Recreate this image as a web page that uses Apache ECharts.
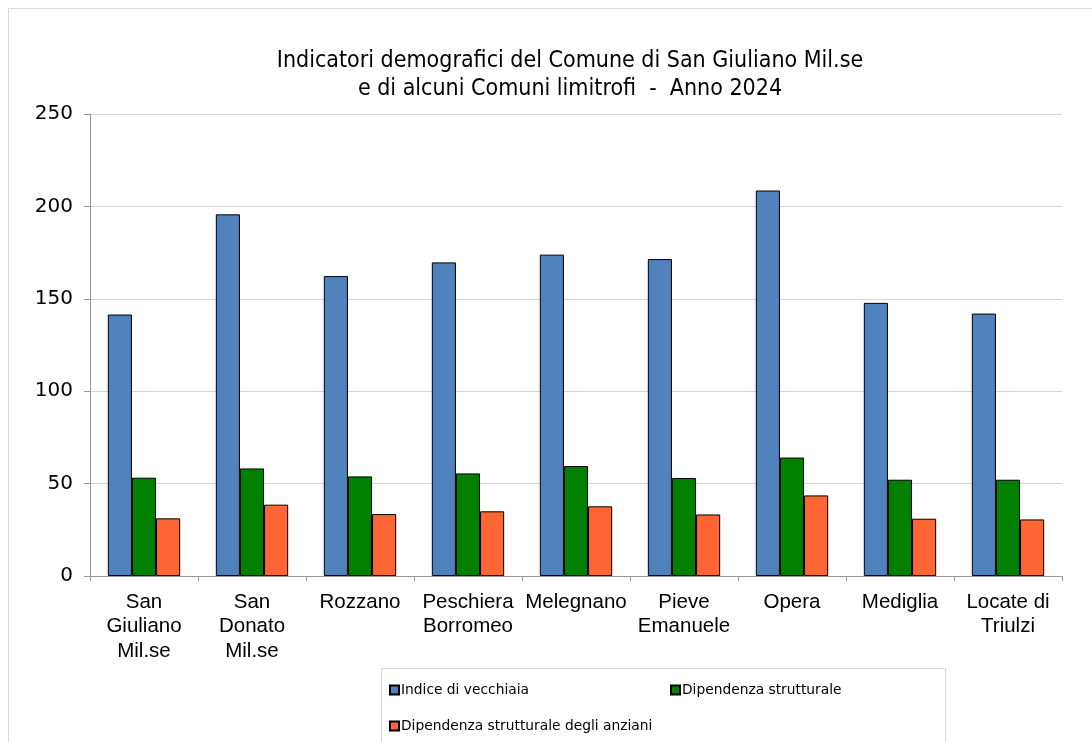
<!DOCTYPE html>
<html><head><meta charset="utf-8">
<script src="https://cdn.jsdelivr.net/npm/echarts@6/dist/echarts.min.js"></script>
<style>html,body{margin:0;padding:0;background:#fff}#c{width:1092px;height:742px}</style>
</head><body><div id="c"></div>
<script>
const categories = ["San\nGiuliano\nMil.se","San\nDonato\nMil.se","Rozzano","Peschiera\nBorromeo","Melegnano","Pieve\nEmanuele","Opera","Mediglia","Locate di\nTriulzi"];
const seriesNames = ["Indice di vecchiaia","Dipendenza strutturale","Dipendenza strutturale degli anziani"];
const indiceVecchiaia = [141.5,195.7,162.3,169.7,173.9,171.5,208.6,147.8,142.0];
const dipendenzaStrutturale = [53.2,58.2,53.9,55.5,59.5,53.0,64.1,52.1,52.1];
const dipendenzaAnziani = [31.2,38.6,33.5,35.0,37.7,33.3,43.6,31.0,30.6];
const yTicks = [0,50,100,150,200,250];
const titleText = "Indicatori demografici del Comune di San Giuliano Mil.se\ne di alcuni Comuni limitrofi  -  Anno 2024";

const colors = ["#4f81bd","#008000","#ff6633"];
const FONT = "DejaVu Sans";
const chart = echarts.init(document.getElementById('c'), null, {renderer:'canvas'});
const values = [indiceVecchiaia, dipendenzaStrutturale, dipendenzaAnziani];
const legTxt = {fontFamily:FONT,fontSize:13.8,color:'#000',padding:[0,0,0,-3]};
chart.setOption({
  animation:false,
  color: colors,
  title:{text:titleText,left:565,top:42,textAlign:'center',
    textStyle:{fontFamily:"'DejaVu Sans Condensed', 'DejaVu Sans'",fontSize:23,fontWeight:'normal',color:'#000',lineHeight:28}},
  graphic:[
    {type:'rect',shape:{x:8.5,y:8.5,width:1200,height:900},style:{fill:null,stroke:'#d9d9d9',lineWidth:1},silent:true,z:-10},
    {type:'rect',shape:{x:381.5,y:668.5,width:564,height:200},style:{fill:'#fff',stroke:'#d9d9d9',lineWidth:1},silent:true,z:-5}
  ],
  legend:[
    {data:[seriesNames[0]],left:384,top:678,icon:'rect',itemWidth:9,itemHeight:9,textStyle:legTxt},
    {data:[seriesNames[1]],left:665,top:678,icon:'rect',itemWidth:9,itemHeight:9,textStyle:legTxt},
    {data:[seriesNames[2]],left:384,top:714,icon:'rect',itemWidth:9,itemHeight:9,textStyle:legTxt}
  ],
  grid:{left:90,right:30,top:114,bottom:166,containLabel:false},
  xAxis:{type:'category',data:categories,
    axisLine:{lineStyle:{color:'#999'}},
    axisTick:{show:true,length:5,lineStyle:{color:'#999'}},
    axisLabel:{fontFamily:"'Liberation Sans', Arial",fontSize:20.5,color:'#000',lineHeight:24.5,margin:14,interval:0}},
  yAxis:{type:'value',min:yTicks[0],max:yTicks[yTicks.length-1],interval:50,
    axisLine:{show:true,lineStyle:{color:'#999'}},
    axisTick:{show:true,length:6,lineStyle:{color:'#999'}},
    splitLine:{lineStyle:{color:'#d4d4d4'}},
    axisLabel:{fontFamily:FONT,fontSize:20,color:'#000',margin:17}},
  series: seriesNames.map((n,i)=>({
    name:n,type:'bar',data:values[i],barGap:'0%',barCategoryGap:'33%',
    itemStyle:{color:colors[i],borderColor:'#000',borderWidth:1}
  }))
});
</script></body></html>
